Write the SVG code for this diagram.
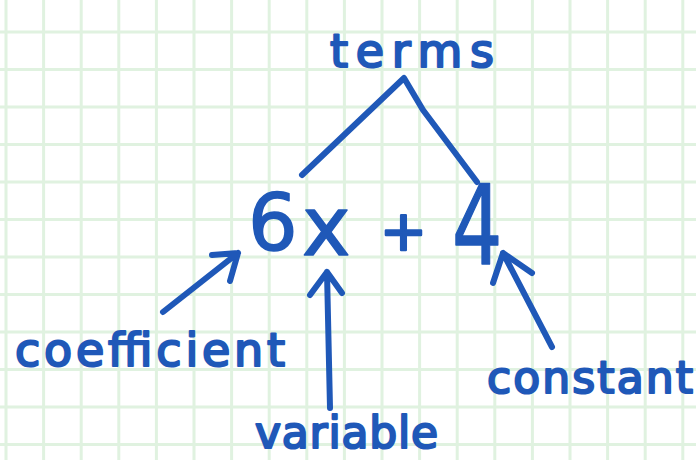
<svg xmlns="http://www.w3.org/2000/svg" width="696" height="460" viewBox="0 0 696 460">
<style>
.grid{stroke:#e0f2e0;stroke-width:3;fill:none}
.ink{stroke:#1f58b8;stroke-width:6;fill:none;stroke-linecap:round;stroke-linejoin:round}
.lbl{font-family:"DejaVu Sans",sans-serif;fill:#1f58b8;stroke:#1f58b8;stroke-width:2.2;stroke-linejoin:round}
.big{font-family:"DejaVu Sans",sans-serif;fill:#1f58b8;stroke:#1f58b8;stroke-width:1.5;stroke-linejoin:round}
</style>
<rect width="696" height="460" fill="#ffffff"/>
<path class="grid" d="M6 0V460M43.6 0V460M81.2 0V460M118.8 0V460M156.4 0V460M194 0V460M231.6 0V460M269.2 0V460M306.8 0V460M344.4 0V460M382 0V460M419.6 0V460M457.2 0V460M494.8 0V460M532.4 0V460M570 0V460M607.6 0V460M645.2 0V460M682.8 0V460M0 32H696M0 69.5H696M0 107H696M0 144.5H696M0 182H696M0 219.5H696M0 257H696M0 294.5H696M0 332H696M0 369.5H696M0 407H696M0 444.5H696"/>
<g id="terms"><text class="lbl" x="330" y="67" font-size="46" textLength="164" lengthAdjust="spacing">terms</text></g>
<g id="expression">
<text class="big" x="248" y="250" font-size="78">6</text>
<text class="big" x="302" y="255" font-size="82">x</text>
<text class="big" x="380" y="250" font-size="56" style="stroke-width:2.5">+</text>
<text class="big" x="452" y="264" font-size="110" transform="translate(452 264) scale(0.72 1) translate(-452 -264)">4</text>
</g>
<g id="coefficient"><text class="lbl" x="15" y="366" font-size="46" textLength="270" lengthAdjust="spacing">coefficient</text></g>
<g id="variable"><text class="lbl" x="255" y="448" font-size="44" textLength="183" lengthAdjust="spacing">variable</text></g>
<g id="constant"><text class="lbl" x="487" y="393" font-size="44" textLength="206" lengthAdjust="spacing">constant</text></g>
<g id="connectors">
<path class="ink" d="M302 175L404 78L423 110L477 182"/>
<path class="ink" d="M163 312L238 253M212 255L238 253L230 281"/>
<path class="ink" d="M330 408L327 272M310 295L327 272L342 293"/>
<path class="ink" d="M552 347L503 253M493 283L503 253L532 273"/>
</g>
</svg>
